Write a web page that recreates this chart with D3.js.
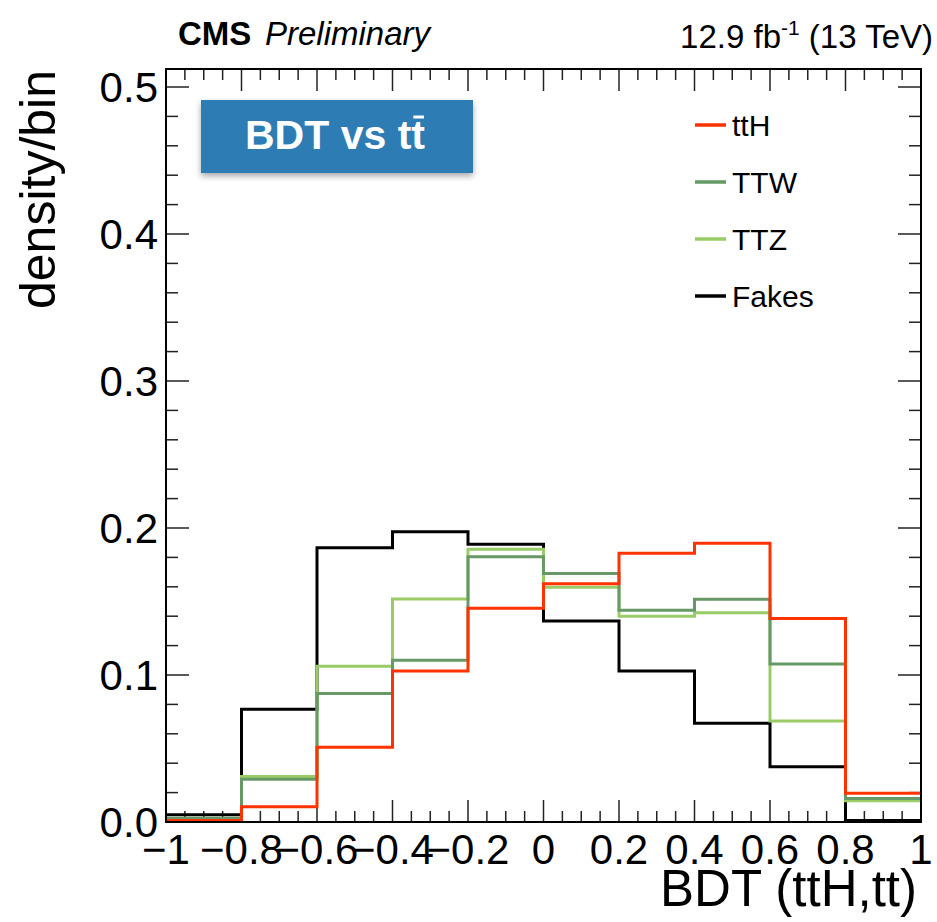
<!DOCTYPE html>
<html>
<head>
<meta charset="utf-8">
<script src="https://cdn.jsdelivr.net/npm/d3@7"></script>
<style>
  body { margin: 0; background: #fff; }
  text { font-family: "Liberation Sans", Arial, sans-serif; }
</style>
</head>
<body>
<div id="chart"></div>
<script>
// bin edges of BDT (ttH,tt)
var binEdges = [-1, -0.8, -0.6, -0.4, -0.2, 0, 0.2, 0.4, 0.6, 0.8, 1];

var ttH   = [0.001, 0.0104, 0.0508, 0.1027, 0.1454, 0.162, 0.1828, 0.1896, 0.1385, 0.0195];
var ttW   = [0.0025, 0.029, 0.0875, 0.110, 0.1805, 0.169, 0.144, 0.1515, 0.1075, 0.016];
var ttZ   = [0.002, 0.031, 0.106, 0.1517, 0.1855, 0.1597, 0.140, 0.1424, 0.0687, 0.0145];
var fakes = [0.005, 0.0767, 0.1866, 0.1975, 0.189, 0.1367, 0.1027, 0.0671, 0.0376, 0.001];

var seriesNames = ["ttH", "TTW", "TTZ", "Fakes"];
var xTickValues = [-1, -0.8, -0.6, -0.4, -0.2, 0, 0.2, 0.4, 0.6, 0.8, 1];
var yTickValues = [0, 0.1, 0.2, 0.3, 0.4, 0.5];

var series = [
  {name: "Fakes", values: fakes, color: "#000000"},
  {name: "TTZ", values: ttZ, color: "#99cc66"},
  {name: "TTW", values: ttW, color: "#669966"},
  {name: "ttH", values: ttH, color: "#ff3300"}
];
var legendColor = {"ttH": "#ff3300", "TTW": "#669966", "TTZ": "#99cc66", "Fakes": "#000000"};

var svgWidth = 937, svgHeight = 922;
var frame = {left: 166, right: 921, top: 69, bottom: 822};

var svg = d3.select("#chart").append("svg")
    .attr("width", svgWidth)
    .attr("height", svgHeight);

var x = d3.scaleLinear().domain([-1, 1]).range([frame.left, frame.right]);
var y = d3.scaleLinear().domain([0, (frame.bottom - frame.top) / 1470]).range([frame.bottom, frame.top]);

// ticks on all four sides
var xMinor = d3.range(-1, 1.0001, 0.05);
var yMinor = d3.range(0, 0.51, 0.02);

function isMajor(v, step) {
  return Math.abs(v / step - Math.round(v / step)) < 1e-6;
}

var ticks = svg.append("g").attr("stroke", "#222").attr("stroke-width", 1.5);
xMinor.forEach(function(v) {
  var len = isMajor(v, 0.2) ? 22 : 11;
  ticks.append("line").attr("x1", x(v)).attr("x2", x(v)).attr("y1", frame.bottom).attr("y2", frame.bottom - len);
  ticks.append("line").attr("x1", x(v)).attr("x2", x(v)).attr("y1", frame.top).attr("y2", frame.top + len);
});
yMinor.forEach(function(v) {
  var len = isMajor(v, 0.1) ? 23 : 12;
  ticks.append("line").attr("y1", y(v)).attr("y2", y(v)).attr("x1", frame.left).attr("x2", frame.left + len);
  ticks.append("line").attr("y1", y(v)).attr("y2", y(v)).attr("x1", frame.right).attr("x2", frame.right - len);
});

// histograms
var step = d3.line()
    .x(function(d) { return x(d[0]); })
    .y(function(d) { return y(d[1]); })
    .curve(d3.curveStepAfter);

series.forEach(function(s) {
  var pts = s.values.map(function(v, i) { return [binEdges[i], v]; });
  pts.push([binEdges[binEdges.length - 1], s.values[s.values.length - 1]]);
  svg.append("path")
    .datum(pts)
    .attr("fill", "none")
    .attr("stroke", s.color)
    .attr("stroke-width", 3)
    .attr("d", step);
});

// frame
svg.append("rect")
  .attr("x", frame.left).attr("y", frame.top)
  .attr("width", frame.right - frame.left).attr("height", frame.bottom - frame.top)
  .attr("fill", "none").attr("stroke", "#000").attr("stroke-width", 2);

// tick labels
function fmt(v) {
  var s = (Math.abs(v) < 1e-9) ? "0" : String(+v.toFixed(1));
  return s.replace("-", "\u2212");
}
svg.append("g").selectAll("text")
  .data(xTickValues).enter().append("text")
  .attr("x", function(d) { return x(d); })
  .attr("y", frame.bottom + 42)
  .attr("text-anchor", "middle")
  .attr("font-size", 42)
  .text(fmt);

svg.append("g").selectAll("text")
  .data(yTickValues).enter().append("text")
  .attr("x", frame.left - 8)
  .attr("y", function(d) { return y(d) + 15; })
  .attr("text-anchor", "end")
  .attr("font-size", 42)
  .text(function(d) { return d.toFixed(1); });

// axis titles
svg.append("text")
  .attr("x", 917).attr("y", 906)
  .attr("text-anchor", "end")
  .attr("font-size", 51)
  .text("BDT (ttH,tt)");

svg.append("text")
  .attr("transform", "translate(55,70) rotate(-90)")
  .attr("text-anchor", "end")
  .attr("font-size", 50)
  .text("density/bin");

// header
svg.append("text")
  .attr("x", 178).attr("y", 45)
  .attr("font-size", 33).attr("font-weight", "bold")
  .text("CMS");
svg.append("text")
  .attr("x", 265).attr("y", 45)
  .attr("font-size", 33).attr("font-style", "italic")
  .text("Preliminary");

var lumi = svg.append("text")
  .attr("x", 933).attr("y", 48)
  .attr("text-anchor", "end")
  .attr("font-size", 33);
lumi.append("tspan").text("12.9 fb");
lumi.append("tspan").attr("dy", -13).attr("font-size", 21).text("-1");
lumi.append("tspan").attr("dy", 13).text(" (13 TeV)");

// label box
var defs = svg.append("defs");
var filter = defs.append("filter").attr("id", "shadow")
  .attr("x", "-10%").attr("y", "-10%").attr("width", "130%").attr("height", "150%");
filter.append("feDropShadow")
  .attr("dx", 0).attr("dy", 3).attr("stdDeviation", 3)
  .attr("flood-color", "#000").attr("flood-opacity", 0.35);

svg.append("rect")
  .attr("x", 201).attr("y", 100)
  .attr("width", 272).attr("height", 73)
  .attr("fill", "#2e7bb4")
  .attr("filter", "url(#shadow)");

var boxText = svg.append("text")
  .attr("x", 335).attr("y", 149)
  .attr("text-anchor", "middle")
  .attr("font-size", 41).attr("font-weight", "bold")
  .attr("fill", "#fff")
  .text("BDT vs tt");

// bar over the last t
var node = boxText.node();
var n = node.getNumberOfChars();
var ext = node.getExtentOfChar(n - 1);
svg.append("line")
  .attr("x1", ext.x + 2).attr("x2", ext.x + ext.width - 1)
  .attr("y1", 117).attr("y2", 117)
  .attr("stroke", "#fff").attr("stroke-width", 3);

// legend
var lg = svg.append("g");
seriesNames.forEach(function(name, i) {
  var ly = 125 + i * 57;
  lg.append("line")
    .attr("x1", 695).attr("x2", 726)
    .attr("y1", ly).attr("y2", ly)
    .attr("stroke", legendColor[name]).attr("stroke-width", 3.5);
  lg.append("text")
    .attr("x", 732).attr("y", ly + 11)
    .attr("font-size", 30)
    .text(name);
});
</script>
</body>
</html>
